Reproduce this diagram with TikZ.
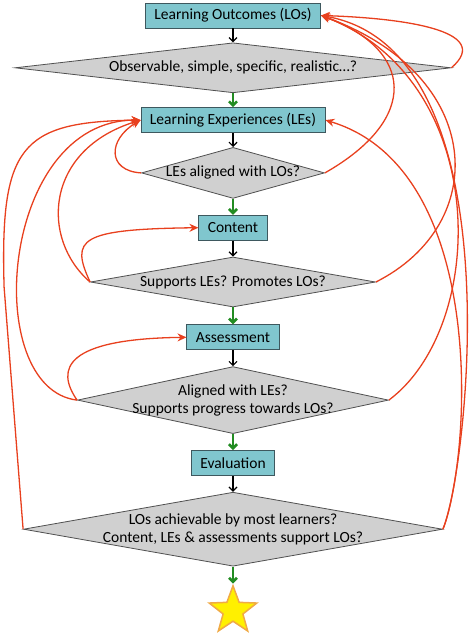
\documentclass[tikz,border=0pt]{standalone}
\usepackage{fontspec}
\setmainfont{Carlito}
\usepackage{tikz}
\usetikzlibrary{positioning}
\usetikzlibrary{arrows.meta}
\usetikzlibrary{shapes.geometric}

\definecolor{boxfill}{RGB}{128,198,206}
\definecolor{boxline}{RGB}{62,88,94}
\definecolor{checkfill}{RGB}{208,208,208}
\definecolor{checkline}{RGB}{80,80,80}
\definecolor{passgreen}{RGB}{34,140,34}
\definecolor{backred}{RGB}{232,64,30}
\definecolor{staryellow}{RGB}{255,240,0}
\definecolor{starline}{RGB}{240,170,70}

\begin{document}
\begin{tikzpicture}[
  x=1pt, y=1pt,
  stage/.style={rectangle, draw=boxline, fill=boxfill, line width=0.8pt, minimum height=25pt, inner xsep=9pt, font=\fontsize{15.5pt}{18pt}\selectfont},
  check/.style={diamond, draw=checkline, fill=checkfill, line width=0.8pt, inner sep=-7pt, align=center, font=\fontsize{15.5pt}{18pt}\selectfont},
  flow/.style={-{Straight Barb[length=4pt,width=8pt]}, line width=1.2pt},
  pass/.style={flow, draw=passgreen, line width=2.6pt},
  back/.style={-{Stealth[length=9pt,width=8pt,inset=3pt]}, draw=backred, line width=1.3pt}
]
\useasboundingbox (0,0) rectangle (474,-634);

% Stages and checks
\node[stage] (outcomes) at (233,-15.5) {Learning Outcomes (LOs)};
\node[check, aspect=8.7, minimum width=436pt, minimum height=50pt, below=14pt of outcomes] (observable) {Observable, simple, specific, realistic…?};
\node[stage, below=14pt of observable] (experiences) {Learning Experiences (LEs)};
\node[check, aspect=3.6, minimum width=183pt, minimum height=51pt, below=14pt of experiences] (aligned) {LEs aligned with LOs?};
\node[stage, below=16pt of aligned] (content) {Content};
\node[check, aspect=5.7, minimum width=285pt, minimum height=50pt, below=16pt of content] (supports) {Supports LEs? Promotes LOs?};
\node[stage, below=17pt of supports] (assessment) {Assessment};
\node[check, aspect=4.6, minimum width=311pt, minimum height=67pt, below=16pt of assessment] (progress) {Aligned with LEs?\\Supports progress towards LOs?};
\node[stage, below=16pt of progress] (evaluation) {Evaluation};
\node[check, aspect=5.7, minimum width=419pt, minimum height=74pt, below=16pt of evaluation] (achievable) {LOs achievable by most learners?\\Content, LEs \& assessments support LOs?};
\node[star, star points=5, star point ratio=2.4, minimum size=50pt, inner sep=0pt, fill=staryellow, draw=starline, line width=1.5pt, below=17pt of achievable] (goal) {};

% Forward flow
\draw[flow] (outcomes) -- (observable);
\draw[pass] (observable) -- (experiences);
\draw[flow] (experiences) -- (aligned);
\draw[pass] (aligned) -- (content);
\draw[flow] (content) -- (supports);
\draw[pass] (supports) -- (assessment);
\draw[flow] (assessment) -- (progress);
\draw[pass] (progress) -- (evaluation);
\draw[flow] (evaluation) -- (achievable);
\draw[pass] (achievable) -- (goal);

% Feedback, right side
\draw[back] (observable.east) .. controls +(44pt,38pt) and +(78pt,-2.5pt) .. (outcomes.east);
\draw[back] (aligned.east) .. controls +(95pt,54pt) and +(93pt,-34.5pt) .. (outcomes.east);
\draw[back] (supports.east) .. controls +(115pt,58pt) and +(165pt,-60pt) .. (outcomes.east);
\draw[back] (progress.east) .. controls +(100pt,75pt) and +(170pt,-64.5pt) .. (outcomes.east);
\draw[back] (achievable.east) .. controls +(23pt,52pt) and +(198pt,-34.5pt) .. (outcomes.east);
\draw[back] (achievable.east) .. controls +(28pt,72pt) and +(164pt,-49.5pt) .. (experiences.east);

% Feedback, left side
\draw[back] (aligned.west) .. controls +(-34pt,2pt) and +(-33pt,-19.5pt) .. (experiences.west);
\draw[back] (supports.west) .. controls +(-50pt,43pt) and +(-96pt,-29.5pt) .. (experiences.west);
\draw[back] (supports.west) .. controls +(-20pt,43pt) and +(-119pt,-1.5pt) .. (content.west);
\draw[back] (progress.west) .. controls +(-22pt,31.5pt) and +(-121pt,-1.5pt) .. (assessment.west);
\draw[back] (progress.west) .. controls +(-97pt,11.5pt) and +(-141pt,0.5pt) .. (experiences.west);
\draw[back] (achievable.west) -- ++(-19pt,242pt) .. controls +(-4pt,140pt) and +(-121pt,-1.5pt) .. (experiences.west);

\end{tikzpicture}
\end{document}
